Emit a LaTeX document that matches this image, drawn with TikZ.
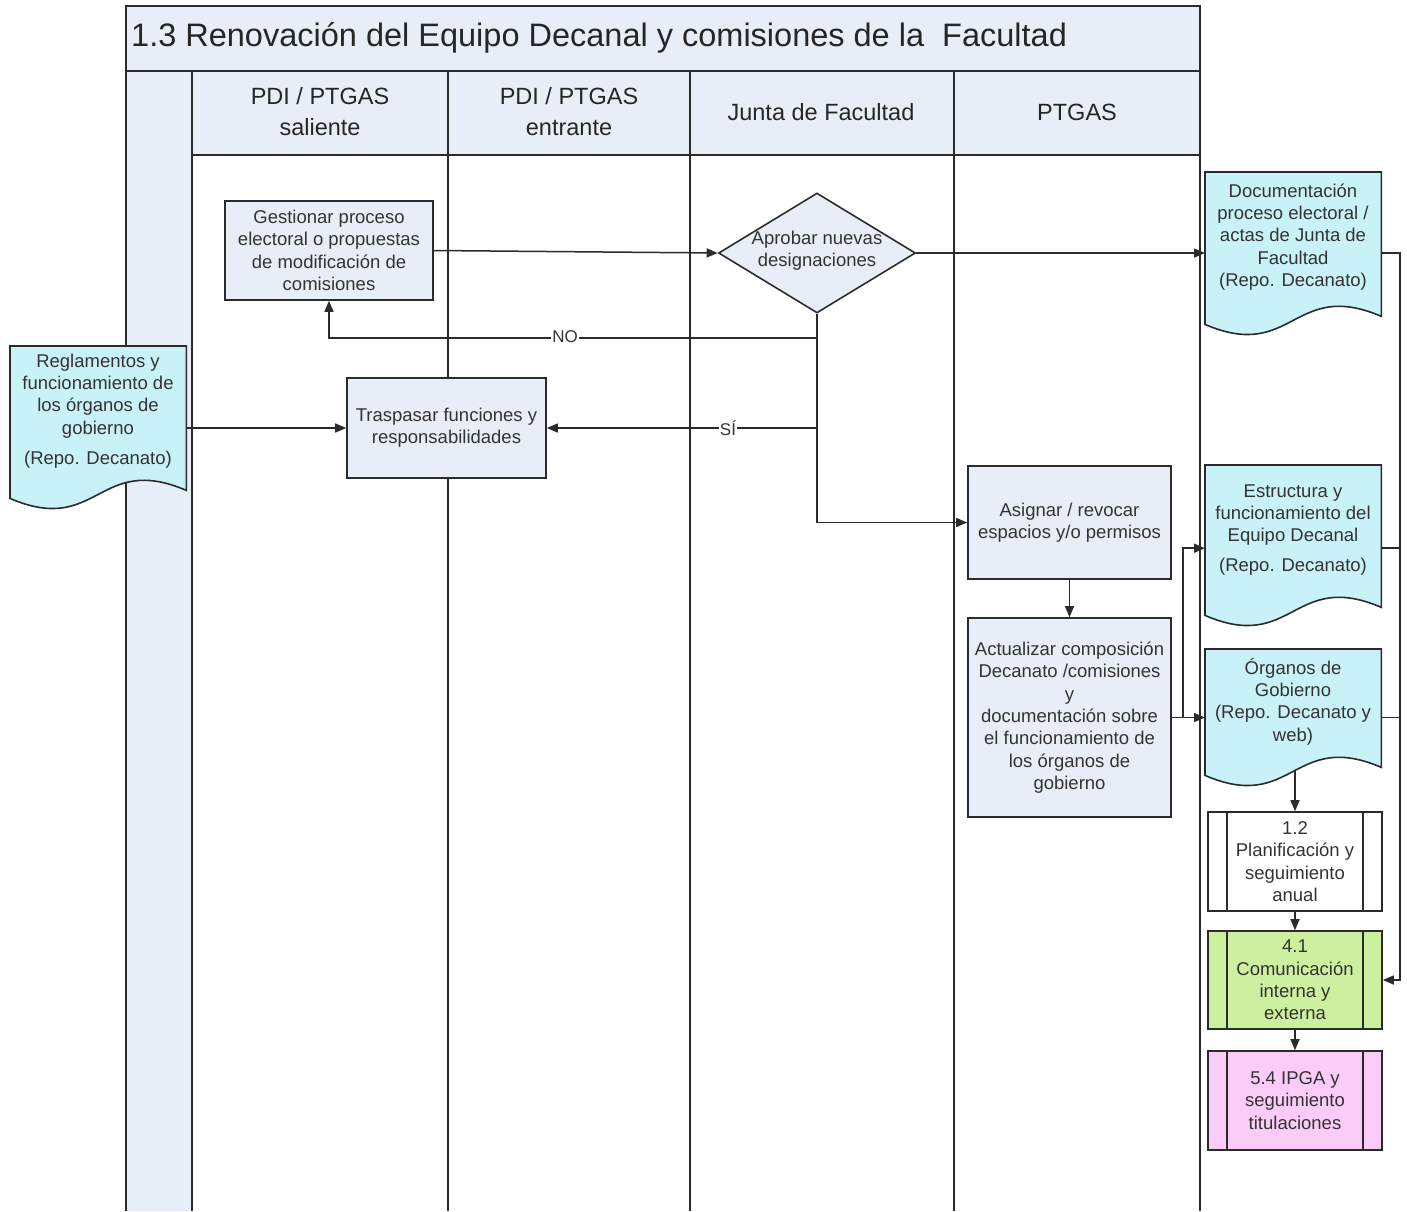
\documentclass[tikz,border=0pt]{standalone}
\usepackage{fontspec}
\setmainfont{Liberation Sans}
\usetikzlibrary{arrows.meta,shapes.geometric,calc}
\definecolor{lanefill}{HTML}{E8EEF7}
\definecolor{boxfill}{HTML}{E8EEF7}
\definecolor{docfill}{HTML}{C8F2F8}
\definecolor{greenfill}{HTML}{CCF0A0}
\definecolor{pinkfill}{HTML}{FBCCF8}
\definecolor{linecol}{HTML}{2B2B2B}
\definecolor{txtcol}{HTML}{333333}
\newcommand\mydocshape[1]{%
  \draw[docstyle] (#1.north west) -- (#1.north east) -- ([yshift=4pt]#1.south east)
    .. controls ([yshift=42pt]#1.south) and ([yshift=-42pt]#1.south) .. ([yshift=-4pt]#1.south west) -- cycle;}
\newcommand\mysublines[1]{%
  \draw[subline] ([xshift=20pt]#1.north west) -- ([xshift=20pt]#1.south west);
  \draw[subline] ([xshift=-20pt]#1.north east) -- ([xshift=-20pt]#1.south east);}
\begin{document}
\begin{tikzpicture}[x=1pt,y=1pt,
  lane/.style={draw=linecol, line width=2pt},
  bodyfont/.style={font=\fontsize{18.5}{22.3}\selectfont, text=txtcol, align=center},
  procbox/.style={rectangle, draw=linecol, fill=boxfill, line width=1.6pt, inner sep=0pt, bodyfont},
  subbox/.style={rectangle, draw=linecol, line width=1.6pt, inner sep=0pt, bodyfont},
  subline/.style={draw=linecol, line width=1.6pt},
  docanchor/.style={rectangle, inner sep=0pt, anchor=north west, minimum width=176pt},
  docstyle/.style={draw=linecol, fill=docfill, line width=1.6pt},
  txtonly/.style={inner sep=0pt, bodyfont},
  diabox/.style={diamond, draw=linecol, fill=boxfill, line width=1.6pt, inner sep=0pt, minimum width=197pt, minimum height=120pt},
  hdr/.style={inner sep=0pt, align=center, font=\fontsize{23.5}{31}\selectfont, text=black!85},
  lbl/.style={fill=white, inner sep=1pt, font=\fontsize{17}{20}\selectfont, text=txtcol},
  conn/.style={draw=linecol, line width=1.5pt, -{Triangle[length=11pt,width=9pt]}},
  plain/.style={draw=linecol, line width=1.5pt}
]
\useasboundingbox (0,0) rectangle (1407,-1211);
% pool and lanes
\fill[lanefill] (126,-6) rectangle (1200,-71);
\fill[lanefill] (126,-71) rectangle (192,-1211);
\fill[lanefill] (192,-71) rectangle (1200,-155);
\draw[lane] (126,-6) rectangle (1200,-71);
\draw[lane] (126,-71) -- (126,-1211);
\draw[lane] (192,-71) -- (192,-1211);
\draw[lane] (448,-71) -- (448,-1211);
\draw[lane] (690,-71) -- (690,-1211);
\draw[lane] (954,-71) -- (954,-1211);
\draw[lane] (1200,-71) -- (1200,-1211);
\draw[lane] (192,-155) -- (1200,-155);
\node[anchor=west, inner sep=0pt, font=\fontsize{32.5}{36}\selectfont, text=black!85] (title) at (131,-38) {1.3 Renovación del Equipo Decanal y comisiones de la\ \ Facultad};
\node[hdr] (h1) at (320,-112) {PDI / PTGAS\\saliente};
\node[hdr] (h2) at (569,-112) {PDI / PTGAS\\entrante};
\node[hdr] (h3) at (821,-112) {Junta de Facultad};
\node[hdr] (h4) at (1077,-112) {PTGAS};

% process nodes
\node[procbox, minimum width=208pt, minimum height=99pt] (gest) at (329,-250.5) {Gestionar proceso\\electoral o propuestas\\de modificación de\\comisiones};
\node[diabox] (dia) at (817,-253) {};
\node[txtonly] (diat) at (817,-251) {Aprobar nuevas\\designaciones};
\node[procbox, minimum width=199pt, minimum height=100pt] (trasp) at (446.5,-428) {Traspasar funciones y\\responsabilidades};
\node[procbox, minimum width=203pt, minimum height=113pt] (asig) at (1069.5,-522.5) {Asignar / revocar\\espacios y/o permisos};
\node[procbox, minimum width=203pt, minimum height=199pt] (act) at (1069.5,-717.5) {Actualizar composición\\Decanato /comisiones\\y\\documentación sobre\\el funcionamiento de\\los órganos de\\gobierno};

% documents
\node[docanchor, minimum height=148pt] (d1) at (1205,-172) {};
\mydocshape{d1}
\node[txtonly] (d1t) at (1293,-237) {Documentación\\proceso electoral /\\actas de Junta de\\Facultad\\(Repo. Decanato)};

\node[docanchor, minimum height=148pt] (regl) at (10,-346) {};
\mydocshape{regl}
\node[txtonly] (reglt) at (98,-411) {Reglamentos y\\funcionamiento de\\los órganos de\\gobierno\\[8pt](Repo. Decanato)};

\node[docanchor, minimum height=146pt] (estr) at (1205,-465) {};
\mydocshape{estr}
\node[txtonly] (estrt) at (1293,-530) {Estructura y\\funcionamiento del\\Equipo Decanal\\[8pt](Repo. Decanato)};

\node[docanchor, minimum height=122pt] (org) at (1205,-649) {};
\mydocshape{org}
\node[txtonly] (orgt) at (1293,-701.5) {Órganos de\\Gobierno\\(Repo. Decanato y\\web)};

% subprocesses
\node[subbox, fill=white, minimum width=174pt, minimum height=99pt] (p12) at (1295,-861.5) {1.2\\Planificación y\\seguimiento\\anual};
\mysublines{p12}
\node[subbox, fill=greenfill, minimum width=174pt, minimum height=98pt] (p41) at (1295,-980) {4.1\\Comunicación\\interna y\\externa};
\mysublines{p41}
\node[subbox, fill=pinkfill, minimum width=174pt, minimum height=99pt] (p54) at (1295,-1100.5) {5.4 IPGA y\\seguimiento\\titulaciones};
\mysublines{p54}

% connectors
\coordinate (noy) at (0,-338);
\coordinate (bus) at (1400,-253);
\coordinate (br) at (1183,-717.5);
\coordinate (estrin) at ([yshift=-10pt]estr.west);

\draw[conn] (gest.east) -- (dia.west);
\draw[conn] (dia.east) -- (d1.west |- dia.east);
\draw[conn] (dia.south) -- (dia.south |- noy) -| (gest.south);
\draw[conn] (dia.south) |- (asig.west);
\draw[conn] (dia.south |- trasp.east) -- (trasp.east);
\node[lbl] (no) at (565,-337) {NO};
\node[lbl] (si) at (728,-428) {SÍ};
\draw[conn] (regl.east |- trasp.west) -- (trasp.west);
\draw[conn] (asig.south) -- (act.north);
\draw[conn] (act.east) -- (org.west |- act.east);
\draw[conn] (br) |- (estrin);
\draw[conn] (d1.east |- dia.east) -| (bus |- p41.east) -- (p41.east);
\draw[plain] (estr.east |- estrin) -- (bus |- estrin);
\draw[plain] (org.east |- act.east) -- (bus |- act.east);
\draw[conn] (p12.north |- org.south) -- (p12.north);
\draw[conn] (p12.south) -- (p41.north);
\draw[conn] (p41.south) -- (p54.north);
\end{tikzpicture}
\end{document}
